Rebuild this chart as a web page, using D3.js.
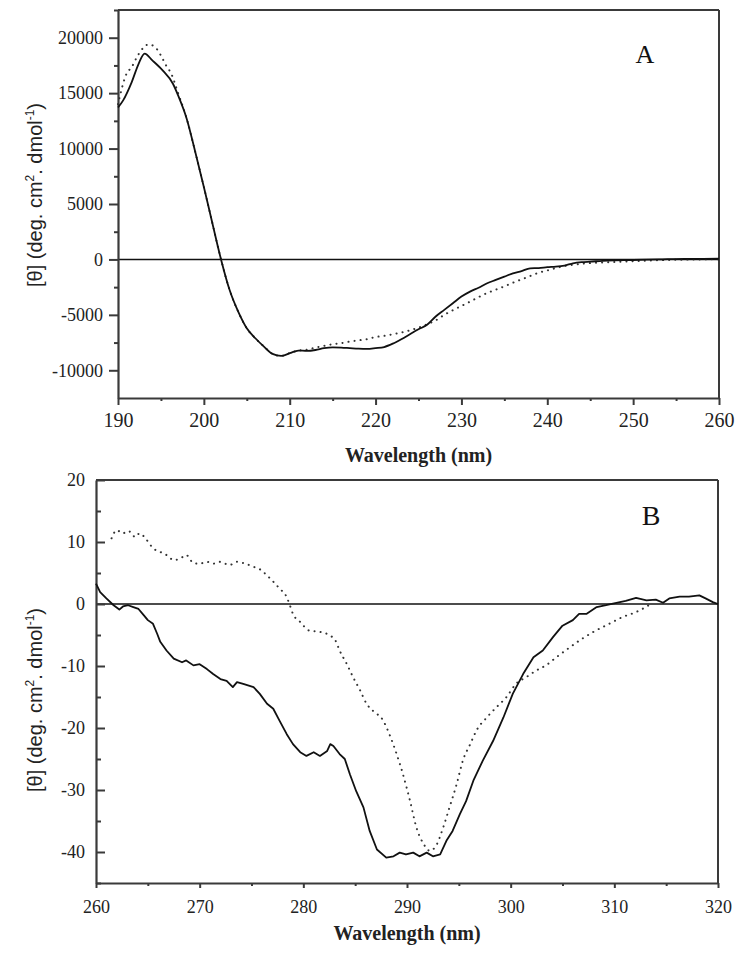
<!DOCTYPE html>
<html><head><meta charset="utf-8">
<script src="https://cdn.jsdelivr.net/npm/d3@7"></script>
<style>body{margin:0;background:#fff} svg{display:block} .tk text{font-family:'Liberation Serif','Times New Roman',serif !important}</style>
</head><body>
<script>
// ---------- Panel A (far-UV) ----------
const aSolidX = [190,190.6,191.6,192.4,193.1,194,195.2,196.4,197,198,199,200,201,202,203,204,205,206,207,208,209,210,211,212,213,214,215,216,217,218,219,220,221,222,223,224,225,226,227,228,229,230,231,232,233,234,235,236,237,238,239,240,241,242,243,244,245,247,250,253,256,260];
const aSolidY = [13700,14350,16000,17650,18560,17950,17050,15850,14800,12700,9690,6540,3240,0,-2760,-4710,-6210,-7110,-7860,-8520,-8700,-8460,-8220,-8250,-8170,-8000,-7930,-7950,-8000,-8050,-8070,-8000,-7900,-7600,-7200,-6750,-6300,-5900,-5150,-4550,-3950,-3350,-2900,-2550,-2150,-1850,-1550,-1250,-1050,-800,-780,-700,-650,-550,-350,-250,-200,-100,-50,0,50,60];
const aDotX = [190,191,191.6,192.1,192.7,193.6,194.5,195.1,195.6,196.2,197,198,199,200,201,202,203,204,205,206,207,208,209,210,211,212,213,214,215,216,217,218,219,220,221,222,223,224,225,226,227,228,229,230,231,232,233,234,235,236,237,238,239,240,241,242,243,244,245,246,248,250,252,254,257,260];
const aDotY = [14000,16760,17350,18100,18860,19400,19000,18250,17500,16760,15000,12700,9690,6540,3240,0,-2760,-4710,-6210,-7110,-7860,-8520,-8700,-8460,-8220,-8150,-7950,-7800,-7650,-7550,-7410,-7300,-7200,-7000,-6900,-6750,-6600,-6400,-6150,-5850,-5500,-5000,-4580,-4200,-3810,-3400,-3030,-2730,-2430,-2100,-1800,-1500,-1200,-1000,-780,-600,-480,-390,-330,-290,-220,-160,-100,-50,-10,20];
const aXTicks = [190,200,210,220,230,240,250,260];
const aXMinor = [195,205,215,225,235,245,255];
const aYTicks = [-10000,-5000,0,5000,10000,15000,20000];
const aYMinor = [-7500,-2500,2500,7500,12500,17500,22500];

// ---------- Panel B (near-UV) ----------
const bSolidX = [260,260.4,261,261.7,262.25,262.6,263.1,263.6,264.1,264.6,265,265.5,265.9,266.2,266.8,267.5,268.3,268.7,269.4,270,270.7,271.3,272,272.6,273.2,273.6,274.2,275.2,275.8,276.5,277.1,277.7,278.4,279,279.7,280.3,281,281.6,282.3,282.6,282.9,283.5,284,284.5,285.1,285.8,286.4,287.1,288,288.7,289.3,289.9,290.6,291.2,291.9,292.5,293.2,293.8,294.4,295.1,295.7,296.4,297.3,298.3,299.3,300.2,301.2,302.2,303.1,304.1,305,306,306.6,307.3,308.3,309.2,310.2,311.1,312.1,313.1,314,314.7,315.3,316.3,317.2,318.2,318.8,319.5,320];
const bSolidY = [3.3,1.9,0.9,-0.2,-0.9,-0.4,-0.2,-0.5,-0.8,-1.8,-2.6,-3.2,-4.8,-6.1,-7.5,-8.8,-9.4,-9.1,-9.9,-9.7,-10.5,-11.3,-12.1,-12.4,-13.4,-12.6,-12.9,-13.4,-14.5,-16.1,-16.9,-18.8,-21.0,-22.6,-23.9,-24.5,-23.9,-24.5,-23.7,-22.6,-22.9,-24.2,-25.0,-27.5,-30.2,-32.8,-36.6,-39.6,-40.9,-40.7,-40.1,-40.4,-40.1,-40.7,-40.1,-40.7,-40.4,-38.2,-36.6,-33.9,-31.8,-28.5,-25.3,-22.1,-18.3,-14.5,-11.3,-8.6,-7.5,-5.3,-3.5,-2.6,-1.6,-1.6,-0.5,-0.2,0.2,0.5,1.0,0.6,0.7,0.2,0.9,1.2,1.2,1.4,0.9,0.3,0];
const bDotX = [261.5,262,262.6,263.1,263.8,264.2,264.9,265.5,266.2,266.8,267.5,268.1,268.7,269.4,270,270.7,271.3,271.9,272.9,273.6,274.2,275.2,275.8,276.5,277.1,277.7,278.4,278.7,279,279.7,280.6,281.6,282.6,283.1,283.5,284.2,284.8,285.5,286.1,286.7,287.7,288.3,289,289.6,290.3,290.9,291.6,292.2,292.8,293.5,294.1,294.8,295.4,296.1,296.7,297.7,298.6,299.6,300.5,301.5,302.5,303.4,304.4,305.7,306.9,308.2,309.5,310.8,312.1,312.7,313.5];
const bDotY = [10.6,11.9,11.4,11.8,10.8,11.4,10.3,9.0,8.4,7.9,7.1,7.3,7.9,6.6,6.5,6.8,6.5,6.8,6.3,6.8,6.6,6.0,5.6,4.6,3.6,2.5,1.1,-0.2,-1.6,-2.9,-4.3,-4.5,-5.1,-5.9,-7.5,-9.7,-11.8,-14.0,-16.1,-17.2,-18.8,-21.0,-24.2,-27.4,-31.8,-36.0,-38.7,-39.8,-39.0,-36.0,-32.8,-29.0,-25.2,-22.6,-20.4,-18.3,-16.7,-15.0,-12.9,-11.8,-10.7,-9.9,-8.6,-7.0,-5.6,-4.3,-3.2,-2.1,-1.3,-0.8,0];
const bXTicks = [260,270,280,290,300,310,320];
const bXMinor = [265,275,285,295,305,315];
const bYTicks = [-40,-30,-20,-10,0,10,20];
const bYMinor = [-45,-35,-25,-15,-5,5,15];

const yTitleParts = [["[θ] (deg. cm",""],["2","sup"],[". dmol",""],["-1","sup"],[")",""]];

const svg = d3.select("body").append("svg").attr("width",738).attr("height",955)
  .style("font-family","'Liberation Serif','Times New Roman',serif");

const AX = "#3a3a3a";
const fmt = d => String(d);
const SERIF = "'Liberation Serif','Times New Roman',serif";

function panel(o) {
  const x = d3.scaleLinear().domain(o.xDom).range([o.L, o.R]);
  const y = d3.scaleLinear().domain(o.yDom).range([o.B, o.T]);
  const g = svg.append("g");

  g.append("line").attr("x1",o.L).attr("x2",o.R).attr("y1",o.T).attr("y2",o.T).attr("stroke",AX).attr("stroke-width",2);
  g.append("line").attr("x1",o.R).attr("x2",o.R).attr("y1",o.T).attr("y2",o.B).attr("stroke",AX).attr("stroke-width",2);

  g.append("line").attr("x1",o.L).attr("x2",o.R).attr("y1",y(0)).attr("y2",y(0)).attr("stroke","#111").attr("stroke-width",1.6);

  const xm = g.append("g").attr("transform",`translate(0,${o.B})`)
    .call(d3.axisBottom(x).tickValues(o.xMinor).tickSize(o.xMinorSize).tickFormat("").tickSizeOuter(0));
  xm.select(".domain").remove();
  xm.selectAll("line").attr("stroke",AX).attr("stroke-width",2);
  const ym = g.append("g").attr("transform",`translate(${o.L},0)`)
    .call(d3.axisLeft(y).tickValues(o.yMinor).tickSize(o.yMinorSize).tickFormat("").tickSizeOuter(0));
  ym.select(".domain").remove();
  ym.selectAll("line").attr("stroke",AX).attr("stroke-width",2);

  const xa = g.append("g").attr("class","tk").attr("transform",`translate(0,${o.B})`)
    .call(d3.axisBottom(x).tickValues(o.xTicks).tickSize(o.xTickSize).tickPadding(o.xPad).tickFormat(fmt).tickSizeOuter(0))
    .attr("font-family",SERIF).attr("font-size",o.xFont);
  xa.select(".domain").attr("stroke",AX).attr("stroke-width",2.2);
  xa.selectAll("line").attr("stroke",AX).attr("stroke-width",2);
  xa.selectAll("text").attr("fill","#222");

  const ya = g.append("g").attr("class","tk").attr("transform",`translate(${o.L},0)`)
    .call(d3.axisLeft(y).tickValues(o.yTicks).tickSize(o.yTickSize).tickPadding(o.yPad).tickFormat(fmt).tickSizeOuter(0))
    .attr("font-family",SERIF).attr("font-size",o.yFont);
  ya.select(".domain").attr("stroke",AX).attr("stroke-width",2.2);
  ya.selectAll("line").attr("stroke",AX).attr("stroke-width",2);
  ya.selectAll("text").attr("fill","#222");

  const line = d3.line().x(d => x(d[0])).y(d => y(d[1]));
  g.append("path").datum(d3.zip(o.dotX, o.dotY))
    .attr("d", line.curve(d3.curveMonotoneX)).attr("fill","none").attr("stroke","#333")
    .attr("stroke-width",2).attr("stroke-dasharray","0.1 6").attr("stroke-linecap","round");
  g.append("path").datum(d3.zip(o.solX, o.solY))
    .attr("d", d3.line().x(d => x(d[0])).y(d => y(d[1])).curve(o.solCurve)).attr("fill","none").attr("stroke","#111")
    .attr("stroke-width",1.8).attr("stroke-linejoin","round");

  g.append("text").attr("x",o.letterX).attr("y",o.letterY).attr("text-anchor","middle")
    .attr("font-size",o.letterSize).attr("fill","#111").text(o.letter);

  g.append("text").attr("x",(o.L+o.R)/2).attr("y",o.xTitleY).attr("text-anchor","middle")
    .attr("font-size",20).attr("font-weight","bold").attr("fill","#222").text("Wavelength (nm)");

  const yt = g.append("text").attr("transform",`translate(${o.yTitleX},${o.yTitleCY}) rotate(-90)`)
    .attr("text-anchor","middle").attr("font-size",20).attr("fill","#222")
    .style("font-family","'Liberation Sans Narrow','Liberation Sans',Arial,sans-serif");
  yTitleParts.forEach(([t,k], i) => {
    const s = yt.append("tspan").text(t);
    if (k === "sup") s.attr("font-size",12).attr("dy",-8);
    else if (i > 0 && yTitleParts[i-1][1] === "sup") s.attr("dy",8);
  });
}

panel({
  L:118, R:719, T:10, B:398, xDom:[190,260], yDom:[-12500,22500],
  xTicks:aXTicks, xMinor:aXMinor, yTicks:aYTicks, yMinor:aYMinor,
  xTickSize:7, xMinorSize:3, xPad:8, xFont:20,
  yTickSize:9, yMinorSize:4, yPad:6, yFont:18,
  solX:aSolidX, solY:aSolidY, dotX:aDotX, dotY:aDotY, solCurve:d3.curveMonotoneX,
  letter:"A", letterX:645, letterY:63, letterSize:26,
  xTitleY:462, yTitleX:42, yTitleCY:195
});

panel({
  L:96, R:718, T:480, B:883, xDom:[260,320], yDom:[-45,20],
  xTicks:bXTicks, xMinor:bXMinor, yTicks:bYTicks, yMinor:bYMinor,
  xTickSize:5, xMinorSize:3, xPad:12, xFont:18,
  yTickSize:-9, yMinorSize:-5, yPad:11, yFont:18,
  solX:bSolidX, solY:bSolidY, dotX:bDotX, dotY:bDotY, solCurve:d3.curveLinear,
  letter:"B", letterX:651, letterY:525, letterSize:28,
  xTitleY:940, yTitleX:42, yTitleCY:700
});
</script>
</body></html>
